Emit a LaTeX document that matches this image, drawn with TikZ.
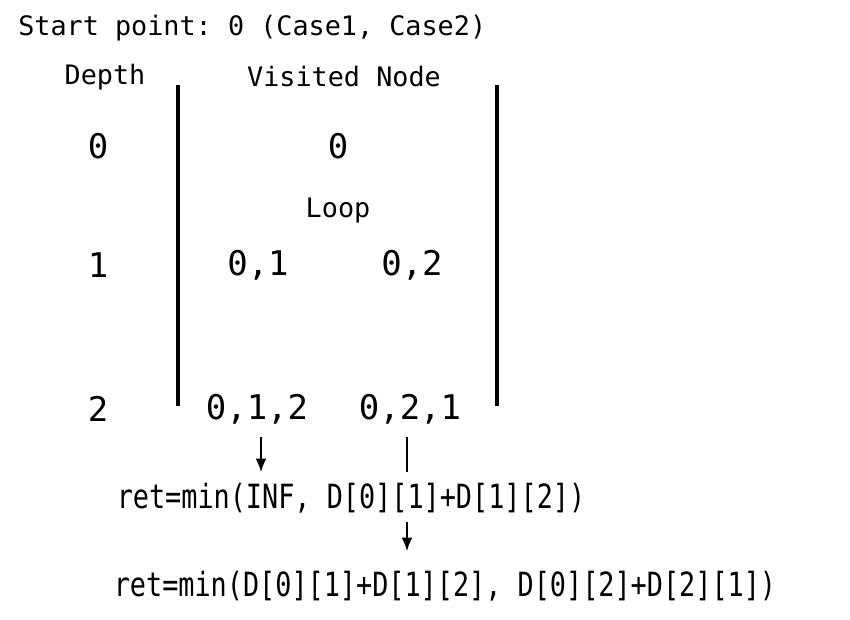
\documentclass[tikz,border=0pt]{standalone}
\usepackage{fontspec}
\setmonofont{DejaVu Sans Mono}
\usetikzlibrary{arrows.meta}
\begin{document}
\begin{tikzpicture}[x=0.75pt,y=-0.75pt,
  hdr/.style={font=\ttfamily\fontsize{20.1}{22}\selectfont, inner sep=0pt},
  big/.style={font=\ttfamily\fontsize{25.5}{28}\selectfont, inner sep=0pt},
  rettxt/.style={font=\ttfamily\fontsize{25}{28}\selectfont, inner sep=0pt, xscale=0.805},
  bar/.style={line width=2.3pt},
  conn/.style={line width=1pt},
  arr/.style={conn, -{Latex[length=10pt,width=8pt]}}]
\useasboundingbox (0,0) rectangle (850,620);
\node[hdr, anchor=west] (start) at (18,28) {Start point: 0 (Case1, Case2)};
\node[hdr] (depth) at (105,77) {Depth};
\node[hdr] (visited) at (344,77) {Visited Node};
\coordinate (lt) at (178,85); \coordinate (lb) at (178,406);
\coordinate (rt) at (497,85); \coordinate (rb) at (497,406);
\draw[bar] (lt) -- (lb);
\draw[bar] (rt) -- (rb);
\node[big] (d0) at (98,146) {0};
\node[big] (v0) at (338,146) {0};
\node[hdr] (loop) at (338,211) {Loop};
\node[big] (d1) at (98,265) {1};
\node[big] (v01) at (258,265) {0,1};
\node[big] (v02) at (412,265) {0,2};
\node[big] (d2) at (98,409) {2};
\node[big] (v012) at (257,409) {0,1,2};
\node[big] (v021) at (410,409) {0,2,1};
\node[rettxt] (ret1) at (351,498) {ret=min(INF, D[0][1]+D[1][2])};
\node[rettxt] (ret2) at (445,586) {ret=min(D[0][1]+D[1][2], D[0][2]+D[2][1])};
\coordinate (a1s) at (261,437); \coordinate (a1e) at (261,472);
\coordinate (a2s) at (407,437); \coordinate (a2e) at (407,472);
\coordinate (a3s) at (407,522); \coordinate (a3e) at (407,551);
\draw[arr] (a1s) -- (a1e);
\draw[conn] (a2s) -- (a2e);
\draw[arr] (a3s) -- (a3e);
\end{tikzpicture}
\end{document}
